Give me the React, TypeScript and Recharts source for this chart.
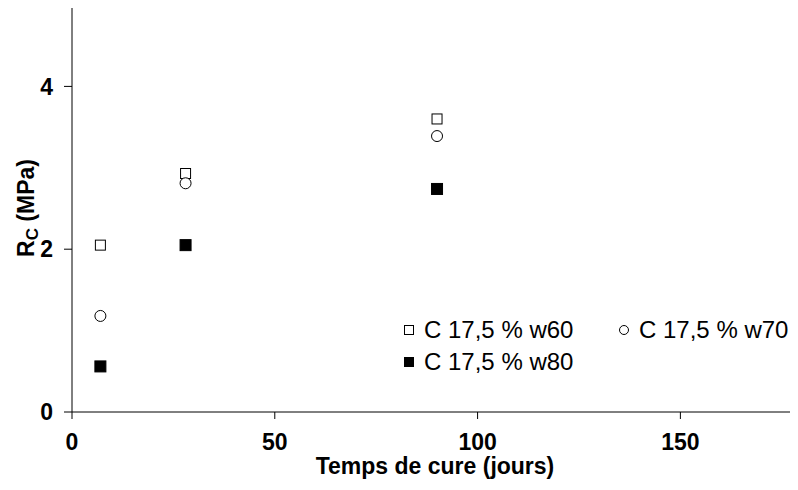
import React from "react"
import { ScatterChart, Scatter, XAxis, YAxis } from "recharts"

const days = [7, 28, 90, 180]
const w60 = [2.05, 2.93, 3.6, 4.65]
const w70 = [1.18, 2.81, 3.39]
const w80 = [0.56, 2.05, 2.74, 2.85]
const xTicks = [0, 50, 100, 150]
const yTicks = [0, 2, 4]
const seriesNames = ["C 17,5 % w60", "C 17,5 % w70", "C 17,5 % w80"]

const toPoints = (vals: number[]) => vals.map((v, i) => ({ x: days[i], y: v }))

const font = "'Liberation Sans', Arial, sans-serif"

const HollowSquare = (p: any) => (
    <rect x={p.cx - 5} y={p.cy - 5} width={10} height={10} fill="#fff" stroke="#000" strokeWidth={1} />
)
const HollowCircle = (p: any) => (
    <circle cx={p.cx} cy={p.cy} r={5.5} fill="#fff" stroke="#000" strokeWidth={1} />
)
const FilledSquare = (p: any) => (
    <rect x={p.cx - 5.5} y={p.cy - 5.5} width={11} height={11} fill="#000" stroke="#000" strokeWidth={1} />
)

const YLabel = () => (
    <text
        transform="translate(34, 208) rotate(-90)"
        textAnchor="middle"
        fontFamily={font}
        fontWeight="bold"
        fontSize={23}
        fill="#000"
    >
        <tspan>R</tspan>
        <tspan fontSize={17} dy={4}>C</tspan>
        <tspan dy={-4}> (MPa)</tspan>
    </text>
)

// legend drawn by hand: two items on the first row, one on the second
const legendMark = (kind: string) => {
    if (kind === "circle")
        return <circle cx={6} cy={6} r={4.5} fill="#fff" stroke="#000" />
    if (kind === "filled")
        return <rect x={1.5} y={1.5} width={9} height={9} fill="#000" stroke="#000" />
    return <rect x={1.5} y={1.5} width={9} height={9} fill="#fff" stroke="#000" />
}

const LegendBox = () => {
    const item = (kind: string, label: string, left: number, cy: number) => (
        <React.Fragment key={label}>
            <svg width={12} height={12} style={{ position: "absolute", left, top: cy - 6 }}>
                {legendMark(kind)}
            </svg>
            <span
                style={{
                    position: "absolute",
                    left: left + 21,
                    top: cy - 12,
                    fontFamily: font,
                    fontSize: 24,
                    lineHeight: "24px",
                    color: "#000",
                    whiteSpace: "nowrap",
                }}
            >
                {label}
            </span>
        </React.Fragment>
    )
    return (
        <>
            {item("square", seriesNames[0], 403, 330)}
            {item("circle", seriesNames[1], 618, 330)}
            {item("filled", seriesNames[2], 403, 362)}
        </>
    )
}

export default function App() {
    return (
        <div style={{ margin: -8, width: 798, height: 490, background: "#fff", position: "relative", overflow: "hidden" }}>
            <ScatterChart width={798} height={490} margin={{ top: 5, right: 0, bottom: 0, left: 0 }}>
                <XAxis
                    type="number"
                    dataKey="x"
                    domain={[0, 179]}
                    allowDataOverflow
                    ticks={xTicks}
                    height={78}
                    stroke="#000"
                    tickSize={7}
                    tickMargin={15}
                    tick={{ fill: "#000", fontFamily: font, fontWeight: "bold", fontSize: 23 }}
                    label={{ value: "Temps de cure (jours)", position: "insideBottom", offset: 16, fill: "#000", fontFamily: font, fontWeight: "bold", fontSize: 23 }}
                />
                <YAxis
                    type="number"
                    dataKey="y"
                    domain={[0, 5]}
                    allowDataOverflow
                    ticks={yTicks}
                    width={72}
                    stroke="#000"
                    tickSize={8}
                    tickMargin={11}
                    tick={{ fill: "#000", fontFamily: font, fontWeight: "bold", fontSize: 23 }}
                    label={<YLabel />}
                />
                <Scatter name={seriesNames[0]} data={toPoints(w60)} shape={HollowSquare} isAnimationActive={false} />
                <Scatter name={seriesNames[1]} data={toPoints(w70)} shape={HollowCircle} isAnimationActive={false} />
                <Scatter name={seriesNames[2]} data={toPoints(w80)} shape={FilledSquare} isAnimationActive={false} />
            </ScatterChart>
            <LegendBox />
        </div>
    )
}
